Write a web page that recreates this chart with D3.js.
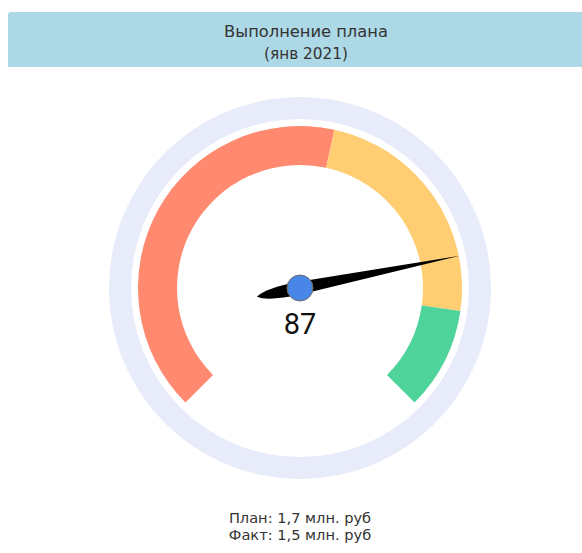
<!DOCTYPE html>
<html>
<head>
<meta charset="utf-8">
<script src="https://cdn.jsdelivr.net/npm/d3@7"></script>
<style>
  html, body { margin: 0; padding: 0; background: #fff; }
  svg { display: block; }
</style>
</head>
<body>
<svg id="chart" width="582" height="553"></svg>
<script>
// Gauge data
const titleLines = ["Выполнение плана", "(янв 2021)"];
const gaugeMin = 0;
const gaugeMax = 110;
const bandEdges = [0, 60, 95, 110];
const bandNames = ["low", "mid", "high"];
const gaugeValue = 87;
const planValue = 1.7;
const factValue = 1.5;

const bandColors = { low: "#ff8a70", mid: "#ffce72", high: "#4ed39a" };

const svg = d3.select("#chart");
const cx = 300, cy = 288;

// Header banner
svg.append("path")
  .attr("d", "M8,15 Q8,12 11,12 L606,12 L606,67 L8,67 Z")
  .attr("fill", "#add8e6");

svg.selectAll("text.title")
  .data(titleLines)
  .join("text")
  .attr("class", "title")
  .attr("x", 306)
  .attr("y", (d, i) => 37 + i * 22)
  .attr("text-anchor", "middle")
  .attr("font-family", "DejaVu Sans, sans-serif")
  .attr("font-size", (d, i) => i === 0 ? 16.3 : 15.3)
  .attr("fill", "#333")
  .text(d => d);

// Angle scale: value -> radians measured clockwise from 12 o'clock
const angle = d3.scaleLinear()
  .domain([gaugeMin, gaugeMax])
  .range([-135 * Math.PI / 180, 135 * Math.PI / 180]);

const g = svg.append("g").attr("transform", `translate(${cx},${cy})`);

// Outer bezel ring
g.append("path")
  .attr("d", d3.arc()({ innerRadius: 169, outerRadius: 191, startAngle: 0, endAngle: 2 * Math.PI }))
  .attr("fill", "#e8ebf9");

// Coloured bands
const bands = bandNames.map((name, i) => ({ name, from: bandEdges[i], to: bandEdges[i + 1] }));
const bandArc = d3.arc().innerRadius(123).outerRadius(162);
g.selectAll("path.band")
  .data(bands)
  .join("path")
  .attr("class", "band")
  .attr("d", d => bandArc({ startAngle: angle(d.from), endAngle: angle(d.to) }))
  .attr("fill", d => bandColors[d.name]);

// Needle
const needleDeg = angle(gaugeValue) * 180 / Math.PI - 90;
g.append("path")
  .attr("d", "M163,0 L0,-6.5 Q-34,-7 -44,0 Q-34,7 0,6.5 Z")
  .attr("transform", `rotate(${needleDeg})`)
  .attr("fill", "#000");

g.append("circle")
  .attr("r", 13)
  .attr("fill", "#4a86e8")
  .attr("stroke", "#6f6f6f")
  .attr("stroke-width", 1);

// Value label
g.append("text")
  .attr("x", 0)
  .attr("y", 46)
  .attr("text-anchor", "middle")
  .attr("font-family", "Roboto, sans-serif")
  .attr("font-size", 29)
  .attr("fill", "#111")
  .text(gaugeValue);

// Footer lines
const fmt = v => d3.format(".1f")(v).replace(".", ",");
const footer = [`План: ${fmt(planValue)} млн. руб`, `Факт: ${fmt(factValue)} млн. руб`];
svg.selectAll("text.footer")
  .data(footer)
  .join("text")
  .attr("class", "footer")
  .attr("x", 300)
  .attr("y", (d, i) => 523 + i * 16.5)
  .attr("text-anchor", "middle")
  .attr("font-family", "DejaVu Sans, sans-serif")
  .attr("font-size", 14.6)
  .attr("fill", "#333")
  .text(d => d);
</script>
</body>
</html>
